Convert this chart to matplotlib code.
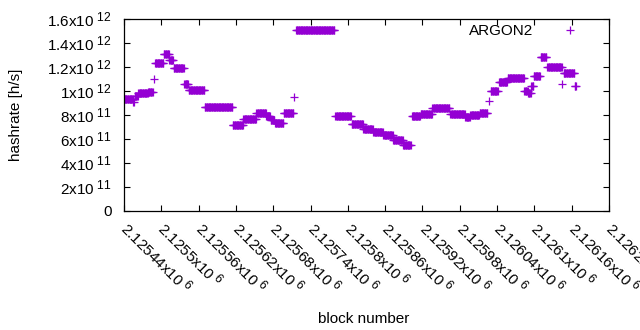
import numpy as np
import matplotlib
matplotlib.use("Agg")
import matplotlib.pyplot as plt
from matplotlib.lines import Line2D

try:
    import matplotlib._mathtext as _mt
    _mt.SHRINK_FACTOR = 0.8
except Exception:
    pass

plt.rcParams['font.family'] = ['Liberation Sans', 'DejaVu Sans']
plt.rcParams['mathtext.fontset'] = 'custom'
plt.rcParams['mathtext.rm'] = 'Liberation Sans'
plt.rcParams['mathtext.it'] = 'Liberation Sans:italic'
plt.rcParams['mathtext.bf'] = 'Liberation Sans:bold'
plt.rcParams['mathtext.default'] = 'regular'

# ---- data (runs of blocks with an equal hashrate) ----
block_base = 2125440
run_start = [1, 15, 17, 23, 39, 48, 50, 64, 73, 80, 97, 104, 130, 175, 192, 213, 229, 236, 243,
             257, 274, 277, 340, 366, 385, 401, 417, 433, 449, 463, 477, 496, 525, 549, 557, 572,
             587, 590, 603, 617, 644, 650, 655, 659, 670, 681, 705, 707, 725]
run_end = [14, 16, 22, 38, 46, 48, 63, 72, 79, 96, 103, 129, 174, 191, 212, 228, 235, 242, 256,
           272, 274, 338, 365, 384, 400, 416, 432, 448, 461, 476, 495, 523, 548, 556, 571, 584,
           587, 601, 616, 643, 649, 654, 658, 669, 679, 704, 705, 724, 727]
run_value = [0.93, 0.91, 0.96, 0.98, 0.99, 1.10, 1.23, 1.31, 1.26, 1.19, 1.06, 1.01, 0.87, 0.72,
             0.77, 0.82, 0.79, 0.76, 0.73, 0.82, 0.95, 1.51, 0.79, 0.725, 0.68, 0.66, 0.63, 0.59,
             0.55, 0.79, 0.81, 0.86, 0.81, 0.78, 0.80, 0.82, 0.92, 1.00, 1.075, 1.11, 1.00, 0.98,
             1.04, 1.125, 1.285, 1.20, 1.06, 1.15, 1.04]

y_ticks = [0, 2e11, 4e11, 6e11, 8e11, 1e12, 1.2e12, 1.4e12, 1.6e12]
y_labels = ['0', r'2x10$^{\ 11}$', r'4x10$^{\ 11}$', r'6x10$^{\ 11}$', r'8x10$^{\ 11}$',
            r'1x10$^{\ 12}$', r'1.2x10$^{\ 12}$', r'1.4x10$^{\ 12}$', r'1.6x10$^{\ 12}$']
x_ticks = [2125440 + 60 * i for i in range(14)]
x_labels = [r'2.12544x10$^{\ 6}$', r'2.1255x10$^{\ 6}$', r'2.12556x10$^{\ 6}$', r'2.12562x10$^{\ 6}$',
            r'2.12568x10$^{\ 6}$', r'2.12574x10$^{\ 6}$', r'2.1258x10$^{\ 6}$', r'2.12586x10$^{\ 6}$',
            r'2.12592x10$^{\ 6}$', r'2.12598x10$^{\ 6}$', r'2.12604x10$^{\ 6}$', r'2.1261x10$^{\ 6}$',
            r'2.12616x10$^{\ 6}$', r'2.12622x10$^{\ 6}$']

blocks = []
values = []
for s, e, v in zip(run_start, run_end, run_value):
    for b in range(s, e + 1):
        blocks.append(block_base + b)
        values.append(v * 1e12)
blocks = np.array(blocks)
values = np.array(values)

color = '#9400D3'
fs = 11

fig = plt.figure(figsize=(6.4, 3.3), dpi=100)
ax = fig.add_axes([124 / 640, 1 - 211 / 330, 485 / 640, 192 / 330])
ax.plot(blocks, values, linestyle='none', marker='+', markersize=5.2, mew=0.9, color=color)

ax.set_xlim(2125440, 2126220)
ax.set_ylim(0, 1.6e12)
ax.set_yticks(y_ticks)
ax.set_yticklabels(y_labels, fontsize=fs)
ax.set_xticks(x_ticks)
ax.set_xticklabels(x_labels, fontsize=fs, rotation=-45, ha='left', va='center',
                   rotation_mode='anchor')
ax.tick_params(direction='in', length=4, width=0.8, top=True, right=True, pad=9)
ax.tick_params(axis='x', pad=10)
ax.minorticks_off()
for sp in ax.spines.values():
    sp.set_linewidth(0.9)

ax.set_ylabel('hashrate [h/s]', fontsize=fs)
ax.yaxis.set_label_coords(-0.208, 0.5)
ax.set_xlabel('block number', fontsize=fs)
ax.xaxis.set_label_coords(0.495, -0.525)

handle = Line2D([], [], linestyle='none', marker='+', markersize=5.2, mew=0.9, color=color)
ax.legend([handle], ['ARGON2'], loc='upper right', bbox_to_anchor=(594 / 640, 1 - 24 / 330),
          bbox_transform=fig.transFigure, frameon=False, markerfirst=False, fontsize=fs,
          handlelength=3.2, handletextpad=0.8, borderpad=0, borderaxespad=0)

fig.savefig('out.png', dpi=100)
